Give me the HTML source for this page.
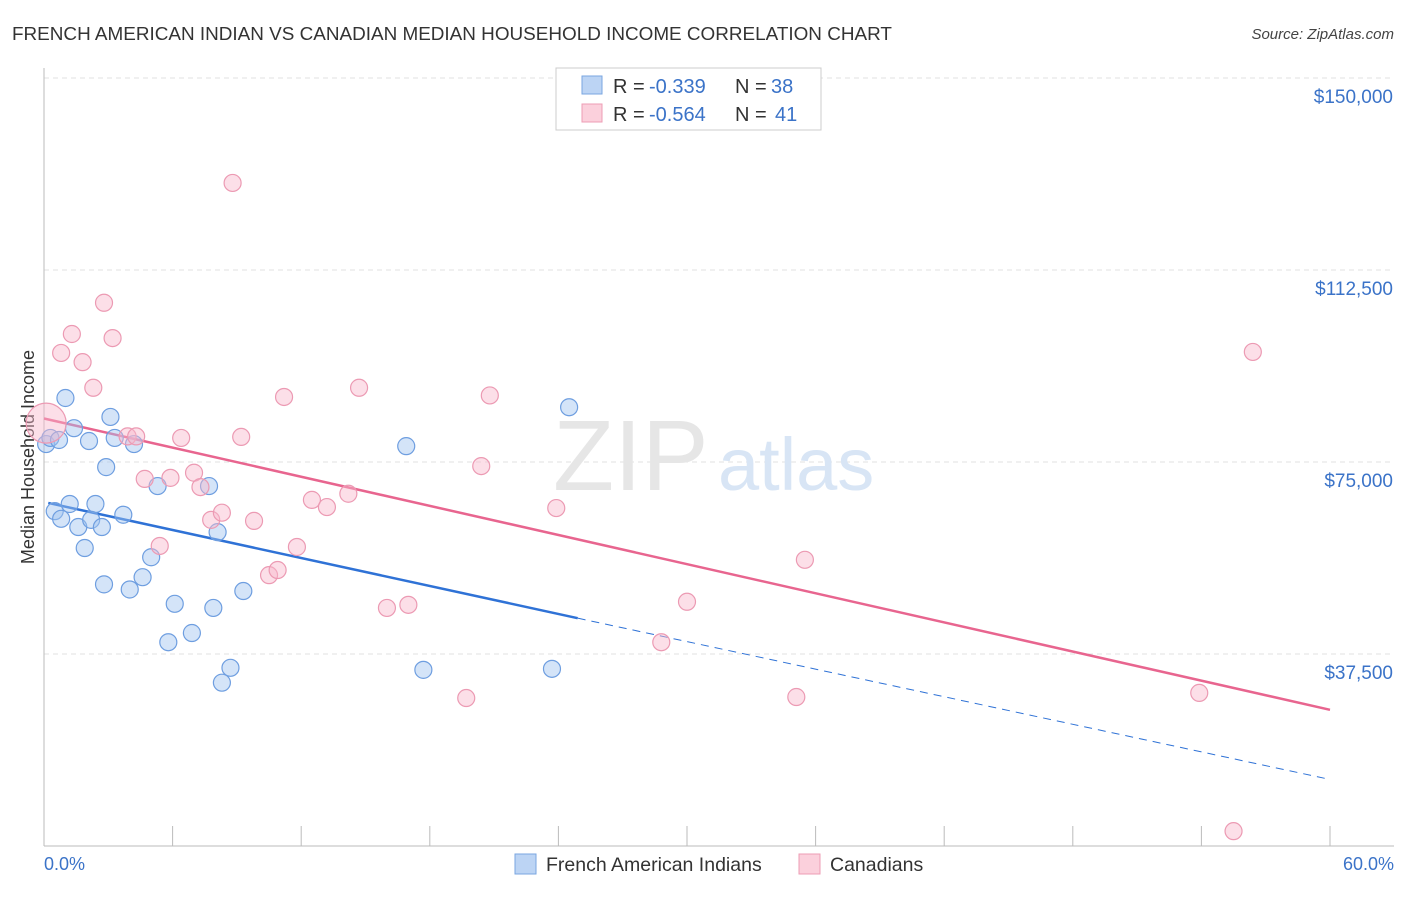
<!DOCTYPE html>
<html><head><meta charset="utf-8"><style>
body{margin:0;background:#fff;font-family:"Liberation Sans",sans-serif;}
svg text{font-family:"Liberation Sans",sans-serif;}
</style></head><body>
<svg width="1406" height="892">
<text x="12" y="40" font-size="18.9" fill="#333">FRENCH AMERICAN INDIAN VS CANADIAN MEDIAN HOUSEHOLD INCOME CORRELATION CHART</text>
<text x="1394" y="39" font-size="15" fill="#444" text-anchor="end" font-style="italic">Source: ZipAtlas.com</text>
<g id="grid"></g>
<text x="553" y="490" font-size="100" fill="#e6e6e6" font-family="Liberation Serif">ZIP</text>
<text x="718" y="490" font-size="74" fill="#d8e5f5">atlas</text>
<line x1="44" y1="68" x2="44" y2="846" stroke="#bbb"/>
<line x1="44" y1="846" x2="1394" y2="846" stroke="#bbb"/>
<text transform="translate(34,457) rotate(-90)" font-size="18" fill="#333" text-anchor="middle">Median Household Income</text>
<text x="44" y="870" font-size="18" fill="#3b73c8">0.0%</text>
<text x="1394" y="870" font-size="18" fill="#3b73c8" text-anchor="end">60.0%</text>
<g id="lines"></g>
<g id="points"></g>
<g>
<rect x="556" y="68" width="265" height="62" fill="#fff" stroke="#ccc"/>
<rect x="582" y="76" width="20" height="18" fill="#bcd4f4" stroke="#7aa6e0"/>
<rect x="582" y="104" width="20" height="18" fill="#fbd0dc" stroke="#ee9db4"/>
<text x="613" y="93" font-size="20" fill="#333">R =</text><text x="649" y="93" font-size="20" fill="#3b73c8">-0.339</text>
<text x="735" y="93" font-size="20" fill="#333">N =</text><text x="771" y="93" font-size="20" fill="#3b73c8">38</text>
<text x="613" y="121" font-size="20" fill="#333">R =</text><text x="649" y="121" font-size="20" fill="#3b73c8">-0.564</text>
<text x="735" y="121" font-size="20" fill="#333">N =</text><text x="775" y="121" font-size="20" fill="#3b73c8">41</text>
</g>
<g>
<rect x="515" y="854" width="21" height="20" fill="#bcd4f4" stroke="#7aa6e0"/>
<text x="546" y="871" font-size="19.5" fill="#333">French American Indians</text>
<rect x="799" y="854" width="21" height="20" fill="#fbd0dc" stroke="#ee9db4"/>
<text x="830" y="871" font-size="19.5" fill="#333">Canadians</text>
</g>
</svg>
<script>
const yTicks=[37500,75000,112500,150000];
const yTickLabels=["$37,500","$75,000","$112,500","$150,000"];
const xTicks=[0,6,12,18,24,30,36,42,48,54,60];
const blueX=[0.1,0.3,0.7,1.0,1.4,2.1,3.1,3.3,4.2,2.9,0.5,1.2,3.7,2.4,5.3,7.7,0.8,1.6,2.2,2.7,1.9,8.1,5.0,4.6,2.8,4.0,6.1,9.3,7.9,5.8,6.9,8.7,8.3,16.9,24.5,17.7,23.7];
const blueY=[78500,79700,79300,87500,81600,79100,83800,79700,78500,74000,65400,66800,64700,66800,70300,70300,63900,62300,63700,62300,58200,61300,56400,52500,51100,50100,47300,49800,46500,39800,41600,34800,31900,78100,85700,34400,34600];
const pinkX=[0.1,2.8,1.3,0.8,1.8,3.2,2.3,8.8,11.2,14.7,20.8,56.4,3.9,4.3,6.4,9.2,4.7,5.9,7.0,7.3,7.8,8.3,9.8,12.5,13.2,14.2,20.4,23.9,5.4,11.8,10.5,10.9,16.0,17.0,35.5,30.0,28.8,19.7,35.1,53.9,55.5];
const pinkY=[82600,106100,100000,96300,94500,99200,89500,129500,87700,89500,88000,96500,80000,80000,79700,79900,71700,71900,72900,70100,63700,65100,63500,67600,66200,68800,74200,66000,58600,58400,52900,53900,46500,47100,55900,47700,39800,28900,29100,29900,2900];
const blueTrend=[[0.2,67000],[24.9,44500]], blueDash=[[24.9,44500],[60,13000]];
const pinkTrend=[[0,83500],[60,26600]];
const X=v=>44+v*(1286/60), Y=v=>846-v*(768/150000);
const ns="http://www.w3.org/2000/svg";
function mk(t,a,p){const e=document.createElementNS(ns,t);for(const k in a)e.setAttribute(k,a[k]);p.appendChild(e);return e;}
const g=document.getElementById('grid');
yTicks.forEach((v,i)=>{
 const l=mk('line',{x1:44,x2:1394,y1:Y(v),y2:Y(v),stroke:'#e2e2e2','stroke-dasharray':'5,4'},g);
 
 
 const t=mk('text',{x:1393,y:Y(v)+25,'font-size':19,fill:'#3b73c8','text-anchor':'end'},g);
 t.textContent=yTickLabels[i];
 
 
});
xTicks.forEach(v=>{
 const l=mk('line',{x1:X(v),x2:X(v),y1:826,y2:846,stroke:'#bbb'},g);
 
 
});
const P=document.getElementById('points');
blueX.forEach((x,i)=>{
 const c=mk('circle',{cx:X(x),cy:Y(blueY[i]),r:8.5,fill:'rgba(160,195,240,0.45)',stroke:'#6e9ee0','stroke-width':1.2},P);
 
 
});
pinkX.forEach((x,i)=>{
 const c=mk('circle',{cx:X(x),cy:Y(pinkY[i]),r:i==0?20:8.5,fill:'rgba(248,185,205,0.45)',stroke:'#ec9ab3','stroke-width':1.2},P);
 
 
});
const L=document.getElementById('lines');
function ln(pts,col,dash,name){const e=mk('line',{x1:X(pts[0][0]),y1:Y(pts[0][1]),x2:X(pts[1][0]),y2:Y(pts[1][1]),stroke:col,'stroke-width':dash?1:2.5},L);if(dash)e.setAttribute('stroke-dasharray','8,6');
 
 }
ln(blueTrend,'#2f72d6',false,'blue-trend-line');
ln(blueDash,'#2f72d6',true,'blue-trend-extension');
ln(pinkTrend,'#e8658f',false,'pink-trend-line');
</script>
</body></html>
